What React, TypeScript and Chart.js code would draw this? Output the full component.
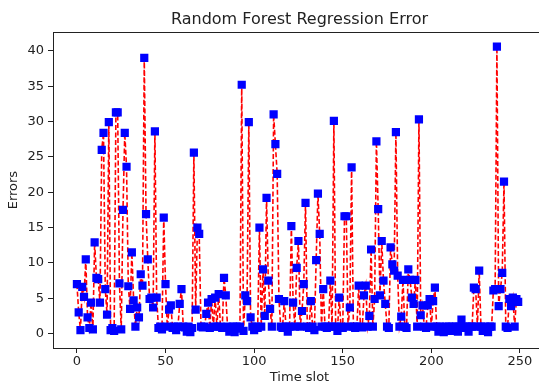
import React, { useEffect, useRef } from "react";
import { Chart, registerables } from "chart.js";

Chart.register(...registerables);

const TITLE = "Random Forest Regression Error";
const X_LABEL = "Time slot";
const Y_LABEL = "Errors";

const errors: number[] = [
  7.0, 3.0, 0.5, 6.6, 5.2, 10.5, 2.3, 0.8, 4.4, 0.6,
  12.9, 7.9, 7.7, 4.4, 26.0, 28.4, 6.3, 2.7, 29.9, 0.5,
  0.8, 0.4, 31.3, 31.3, 7.1, 0.6, 17.5, 28.4, 23.6, 6.7,
  3.5, 11.5, 4.7, 1.0, 3.7, 2.3, 8.4, 6.8, 39.0, 16.9,
  10.5, 4.9, 5.1, 3.7, 28.6, 5.1, 0.8, 1.0, 0.6, 16.4,
  7.0, 1.0, 3.4, 4.0, 0.8, 1.0, 0.5, 1.0, 4.2, 6.3,
  1.0, 0.9, 0.3, 1.0, 0.2, 0.8, 25.6, 3.4, 15.0, 14.1,
  1.0, 0.9, 1.0, 2.8, 4.4, 0.8, 4.9, 1.0, 5.1, 1.0,
  5.6, 1.0, 0.8, 7.9, 5.4, 1.0, 0.3, 0.9, 1.0, 0.2,
  1.0, 0.7, 1.0, 35.2, 0.4, 5.4, 4.6, 29.9, 2.3, 1.0,
  0.5, 1.0, 0.8, 15.0, 1.0, 9.1, 2.5, 19.2, 7.5, 3.5,
  1.0, 31.0, 26.8, 22.6, 4.9, 1.0, 0.8, 4.6, 1.0, 0.3,
  1.0, 15.2, 4.4, 1.0, 9.3, 13.1, 1.0, 3.2, 7.0, 18.5,
  1.0, 0.8, 4.6, 1.0, 0.5, 10.4, 19.8, 14.1, 1.0, 6.3,
  1.0, 0.8, 1.0, 7.5, 1.0, 30.1, 1.0, 0.4, 5.1, 1.0,
  0.8, 16.6, 16.6, 1.0, 3.7, 23.5, 1.0, 0.8, 1.0, 6.8,
  1.0, 0.9, 5.4, 6.8, 1.0, 2.5, 11.9, 1.0, 4.9, 27.2,
  17.6, 5.4, 13.1, 7.5, 4.2, 1.0, 0.8, 12.2, 9.8, 8.9,
  28.5, 8.2, 1.0, 2.4, 7.6, 1.0, 0.8, 9.1, 7.6, 5.1,
  4.2, 7.6, 1.0, 30.3, 2.6, 4.0, 1.0, 0.8, 4.0, 4.9,
  1.0, 4.6, 6.5, 1.0, 0.3, 1.0, 0.9, 0.2, 1.0, 0.8,
  1.0, 0.4, 1.0, 0.9, 1.0, 0.3, 1.0, 2.0, 1.0, 0.8,
  1.0, 0.3, 1.0, 1.0, 6.5, 6.3, 1.0, 8.9, 1.0, 0.4,
  1.0, 0.9, 0.2, 1.0, 1.0, 6.1, 6.3, 40.6, 3.9, 6.3,
  8.6, 21.5, 1.0, 0.8, 4.9, 3.9, 5.1, 1.0, 4.9, 4.5,
];

const xTicks = [0, 50, 100, 150, 200, 250];
const yTicks = [0, 5, 10, 15, 20, 25, 30, 35, 40];

const FONT = "'DejaVu Sans', sans-serif";
const INK = "#222";

const topLinePlugin = {
  id: "topLine",
  afterDraw(chart: any) {
    const { ctx, chartArea } = chart;
    ctx.save();
    ctx.strokeStyle = INK;
    ctx.lineWidth = 1;
    const y = Math.round(chartArea.top) + 0.5;
    ctx.beginPath();
    ctx.moveTo(chartArea.left, y);
    ctx.lineTo(chartArea.right, y);
    ctx.stroke();
    ctx.restore();
  },
};

export default function App() {
  const ref = useRef<HTMLCanvasElement | null>(null);

  useEffect(() => {
    document.body.style.margin = "0";
    const canvas = ref.current;
    if (!canvas) return;
    const points = errors.map((v, i) => ({ x: i, y: v }));
    const chart = new Chart(canvas, {
      type: "line",
      data: {
        datasets: [
          {
            data: points,
            borderColor: "#ff0000",
            borderWidth: 1.6,
            borderDash: [5, 2.5],
            pointStyle: "rect",
            pointRadius: 5.8,
            pointBackgroundColor: "#0000ff",
            pointBorderColor: "#0000ff",
            pointBorderWidth: 0,
            tension: 0,
            fill: false,
          },
        ],
      },
      options: {
        responsive: false,
        animation: false,
        devicePixelRatio: 1,
        layout: { padding: 0, autoPadding: false },
        plugins: {
          legend: { display: false },
          tooltip: { enabled: false },
          title: {
            display: true,
            fullSize: false,
            text: TITLE,
            color: INK,
            font: { family: FONT, size: 16, weight: "normal" },
            padding: { top: 10, bottom: 3 },
          },
        },
        scales: {
          x: {
            type: "linear",
            min: -13.5,
            max: 264.7,
            afterFit(scale: any) {
              scale.height = 37;
            },
            afterBuildTicks(scale: any) {
              scale.ticks = xTicks.map((v) => ({ value: v }));
            },
            grid: {
              display: true,
              drawOnChartArea: false,
              drawTicks: true,
              tickLength: 5,
              color: INK,
            },
            border: { display: true, color: INK },
            ticks: {
              color: INK,
              font: { family: FONT, size: 13 },
              padding: 1,
              maxRotation: 0,
              autoSkip: false,
            },
            title: {
              display: true,
              text: X_LABEL,
              color: INK,
              font: { family: FONT, size: 13 },
              padding: { top: 1, bottom: 0 },
            },
          },
          y: {
            type: "linear",
            min: -2.03,
            max: 42.63,
            afterFit(scale: any) {
              scale.width = 53;
            },
            afterBuildTicks(scale: any) {
              scale.ticks = yTicks.map((v) => ({ value: v }));
            },
            grid: {
              display: true,
              drawOnChartArea: false,
              drawTicks: true,
              tickLength: 5,
              color: INK,
            },
            border: { display: true, color: INK },
            ticks: {
              color: INK,
              font: { family: FONT, size: 13 },
              padding: 4,
              autoSkip: false,
            },
            title: {
              display: true,
              text: Y_LABEL,
              color: INK,
              font: { family: FONT, size: 13 },
              padding: { top: 6, bottom: 2 },
            },
          },
        },
      },
      plugins: [topLinePlugin],
    });
    return () => chart.destroy();
  }, []);

  return (
    <div
      style={{
        position: "absolute",
        left: 0,
        top: 0,
        width: 539,
        height: 385,
        overflow: "hidden",
        background: "#fff",
      }}
    >
      <div style={{ width: 546, height: 385 }}>
        <canvas ref={ref} width={546} height={385} style={{ display: "block" }} />
      </div>
    </div>
  );
}
